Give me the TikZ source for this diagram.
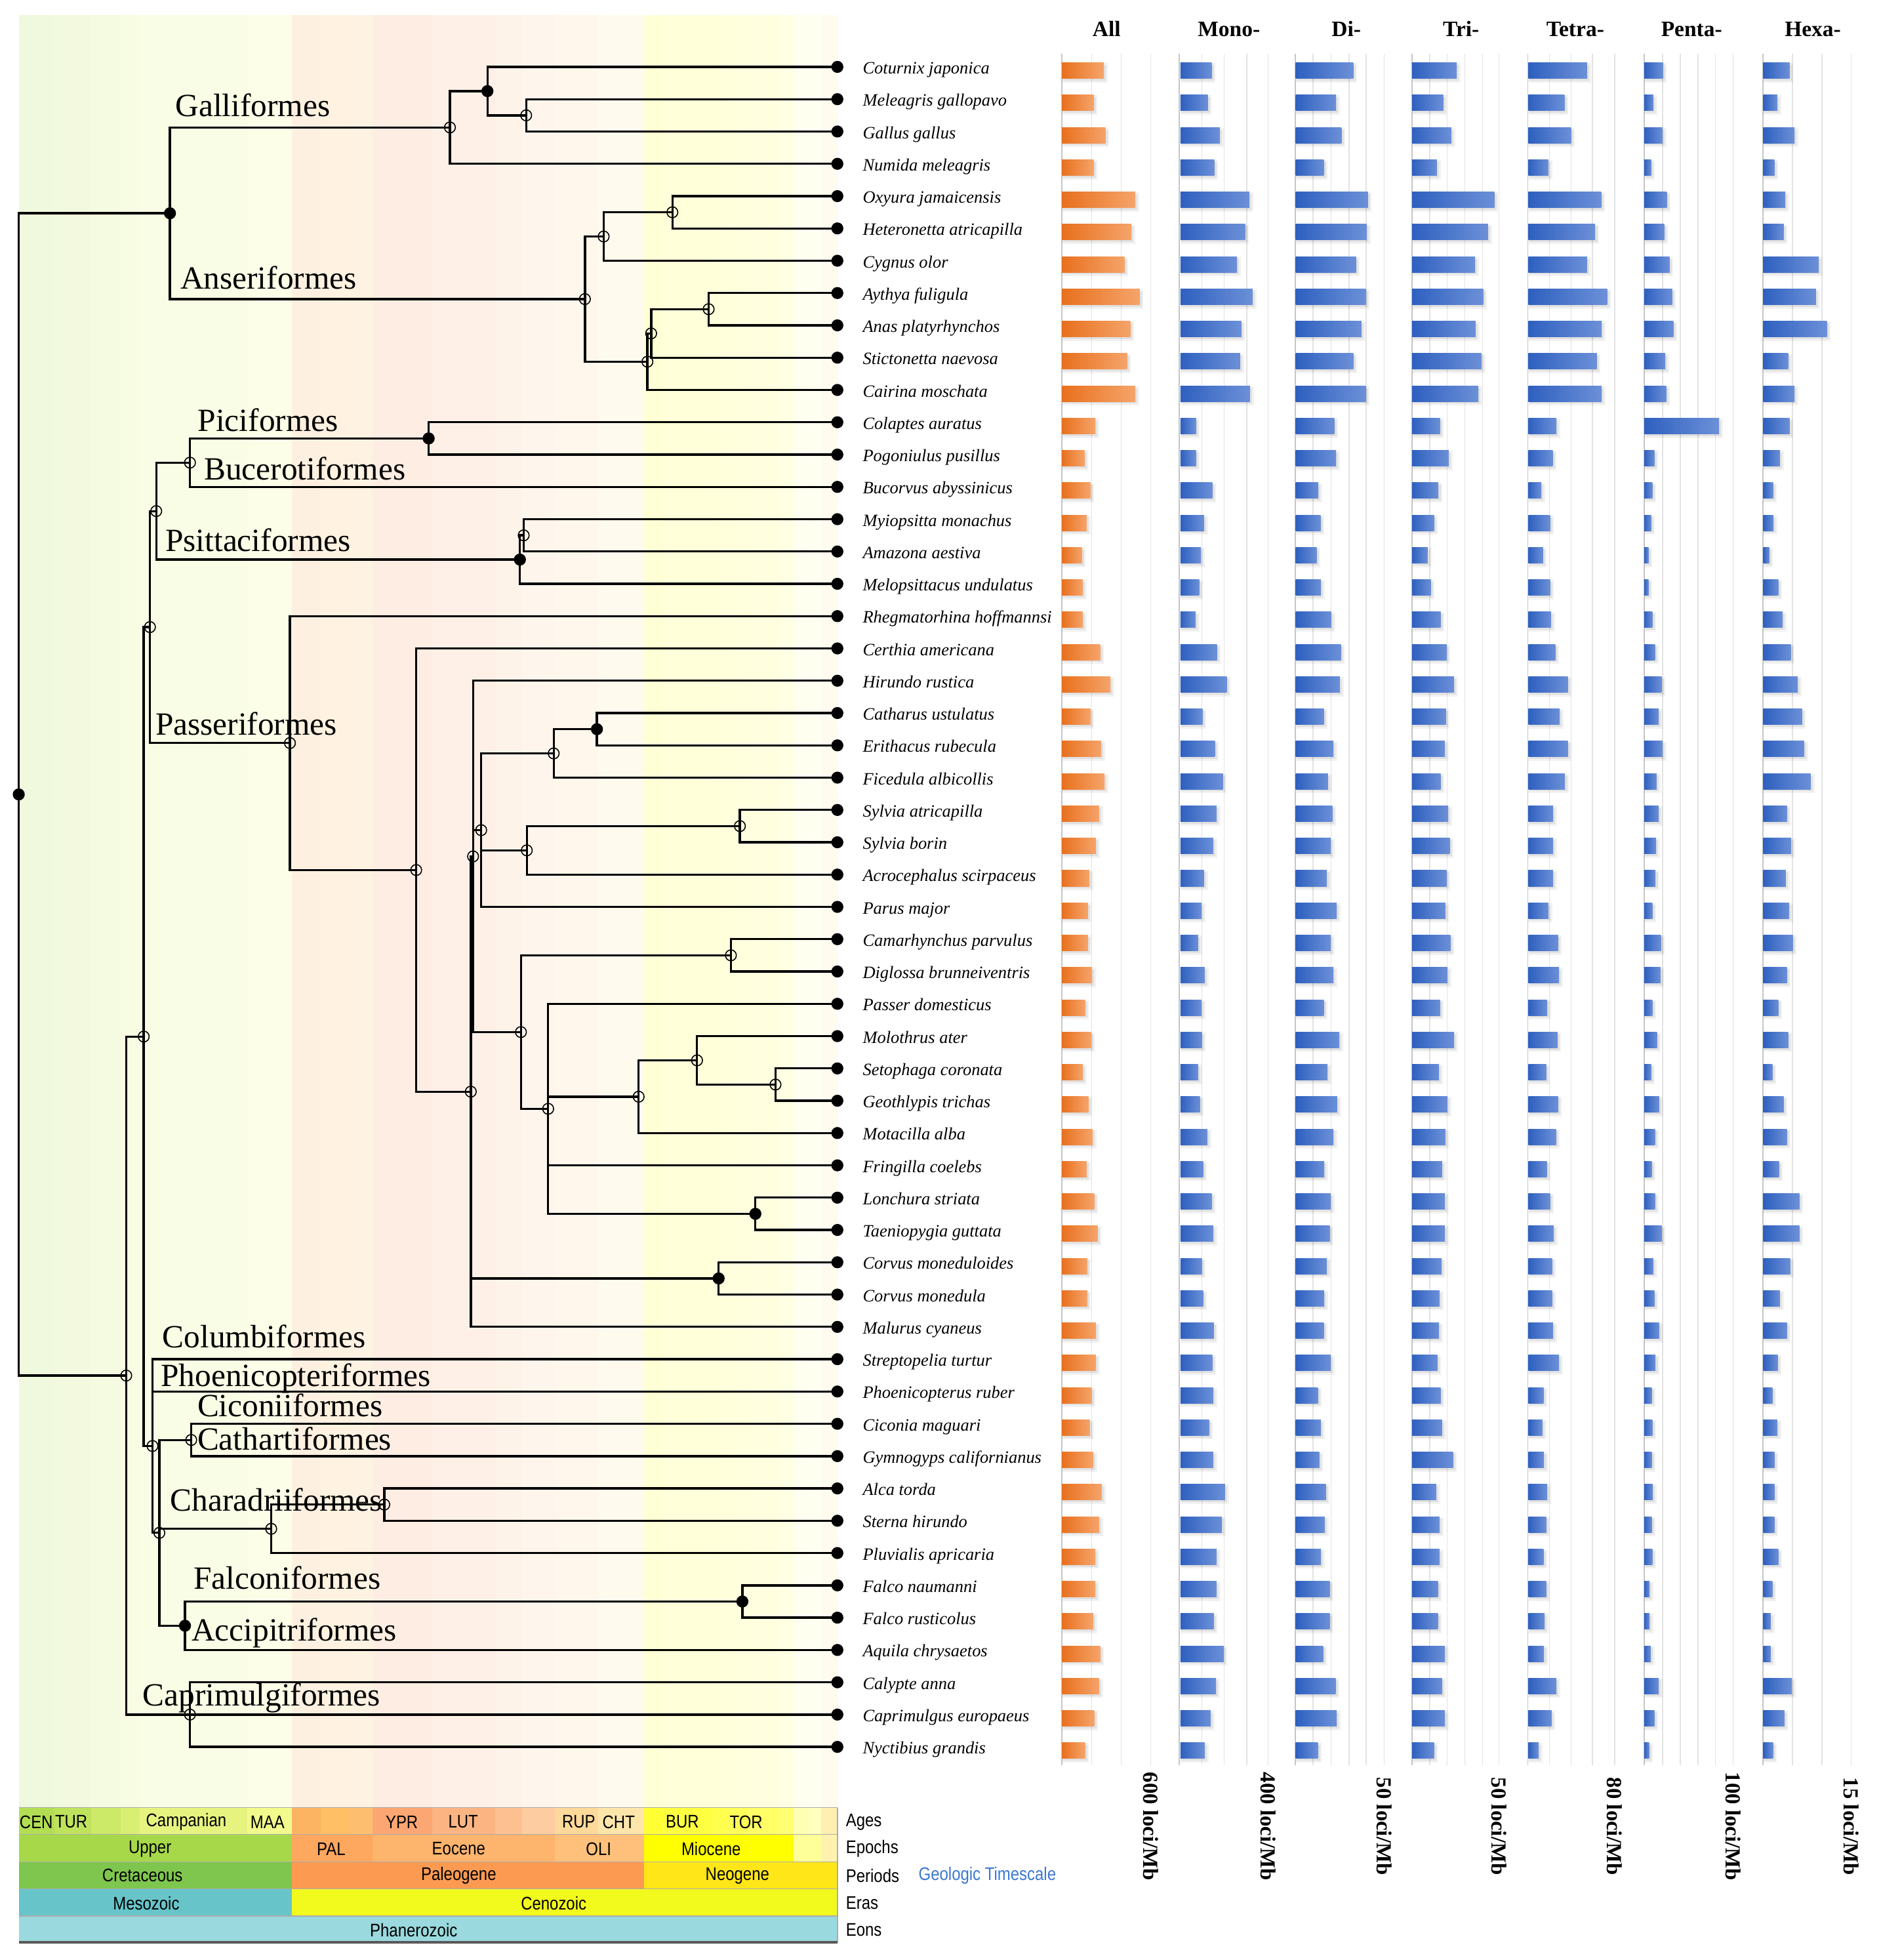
\documentclass[tikz,border=0pt]{standalone}
\usepackage{fontspec}
\setmainfont{Liberation Serif}
\newfontfamily\tsfont[FakeStretch=0.86]{Liberation Sans}
\usetikzlibrary{positioning}

% bar colours
\definecolor{barO1}{HTML}{E8701E}
\definecolor{barO2}{HTML}{F5A46A}
\definecolor{barB1}{HTML}{2E60BF}
\definecolor{barB2}{HTML}{6C90D8}
\definecolor{tsBlue}{HTML}{3A78D0}
% ages
\definecolor{cen}{HTML}{B3DE53}
\definecolor{tur}{HTML}{BFE35D}
\definecolor{con}{HTML}{CCE968}
\definecolor{san}{HTML}{D9EF74}
\definecolor{cam}{HTML}{E6F47F}
\definecolor{maa}{HTML}{F2FA8C}
\definecolor{dan}{HTML}{FDB462}
\definecolor{sel}{HTML}{FEBF65}
\definecolor{tha}{HTML}{FDBF6F}
\definecolor{ypr}{HTML}{FCA773}
\definecolor{lut}{HTML}{FCB482}
\definecolor{bar}{HTML}{FDC091}
\definecolor{pri}{HTML}{FDCDA1}
\definecolor{rup}{HTML}{FED99A}
\definecolor{cht}{HTML}{FEE6AA}
\definecolor{aqu}{HTML}{FFFF33}
\definecolor{bur}{HTML}{FFFF41}
\definecolor{lan}{HTML}{FFFF4D}
\definecolor{ser}{HTML}{FFFF59}
\definecolor{tor}{HTML}{FFFF66}
\definecolor{mes}{HTML}{FFFF73}
\definecolor{zan}{HTML}{FFFFB3}
\definecolor{pia}{HTML}{FFFFBF}
\definecolor{pls}{HTML}{FFEFB0}
% epochs, periods, eras, eons
\definecolor{upper}{HTML}{A6D84A}
\definecolor{pal}{HTML}{FDA75F}
\definecolor{eoc}{HTML}{FDB46C}
\definecolor{oli}{HTML}{FEC07A}
\definecolor{mio}{HTML}{FFFF00}
\definecolor{plio}{HTML}{FFFF99}
\definecolor{pleis}{HTML}{FFF2AE}
\definecolor{cret}{HTML}{7FC64E}
\definecolor{paleo}{HTML}{FD9A52}
\definecolor{neo}{HTML}{FFE619}
\definecolor{meso}{HTML}{67C5CA}
\definecolor{ceno}{HTML}{F2F91D}
\definecolor{phan}{HTML}{9AD9DD}

\tikzset{
    branch/.style={line width=0.95pt},
    fdot/.style={circle, fill=black, inner sep=0pt, minimum size=5.2pt},
    odot/.style={circle, draw=black, line width=0.45pt, inner sep=0pt, minimum size=4.7pt},
    spname/.style={font=\fontsize{7.5}{9}\selectfont\itshape, anchor=base west, inner sep=0pt},
    cladename/.style={font=\fontsize{14}{16}\selectfont, anchor=base west, inner sep=0pt},
    colhead/.style={font=\fontsize{9.5}{11}\selectfont\bfseries, anchor=base, inner sep=0pt},
    scalelbl/.style={font=\fontsize{9.3}{11}\selectfont\bfseries, rotate=-90, inner sep=0pt},
    tslbl/.style={font=\fontsize{7.9}{9}\tsfont, inner sep=0pt},
    gridln/.style={gray!22, line width=0.4pt},
    axisln/.style={gray!45, line width=0.5pt},
    rowln/.style={gray!65, line width=0.5pt}
}

% clade: name, x, top child, bottom child
\newcommand\mkclade[4]{%
    \path (#3) -- (#4) coordinate[midway] (#1m);
    \coordinate (#1) at (#2,0 |- #1m);
    \draw[branch] (#3) -| (#1) |- (#4);
}
% bar: base, end, y, colour prefix (soft shadow, then the bar)
\newcommand\statbar[4]{%
    \fill[black, opacity=0.05] (#1,#3-6) rectangle (#2+7,#3+9.5);
    \fill[black, opacity=0.07] (#1+2,#3-4.5) rectangle (#2+4,#3+8);
    \shade[left color=#41, right color=#42] (#1,#3-6.3) rectangle (#2,#3+6.3);
}

\begin{document}
\begin{tikzpicture}[x=0.019cm, y=-0.019cm, declare function={ry(\r)=53.5+(\r-1)*25.846;}]
\useasboundingbox (0,0) rectangle (1505,1568);

% background bands and ages row
\foreach \xa/\xb/\cc in {15.2/43.5/cen, 43.5/73/tur, 73/96.6/con, 96.6/112/san, 112/198/cam,
    198/233.6/maa, 233.6/256.7/dan, 256.7/278.4/sel, 278.4/298/tha, 298/345.8/ypr,
    345.8/396/lut, 396/417.6/bar, 417.6/443.7/pri, 443.7/478.5/rup, 478.5/515.5/cht,
    515.5/530/aqu, 530/570/bur, 570/582/lan, 582/598/ser, 598/624/tor, 624/635/mes,
    635/647/zan, 647/657/pia, 657/670/pls} {
    \fill[\cc!20] (\xa,12) rectangle (\xb+0.4,1446);
    \fill[\cc] (\xa,1446) rectangle (\xb+0.4,1467.5);
}
\foreach \xa/\xb/\cc in {15.2/233.6/upper, 233.6/298/pal, 298/443.7/eoc, 443.7/515.5/oli,
    515.5/635/mio, 635/657/plio, 657/670/pleis}
    \fill[\cc] (\xa,1467.5) rectangle (\xb+0.4,1489.5);
\foreach \xa/\xb/\cc in {15.2/233.6/cret, 233.6/515.5/paleo, 515.5/670/neo}
    \fill[\cc] (\xa,1489.5) rectangle (\xb+0.4,1511);
\foreach \xa/\xb/\cc in {15.2/233.6/meso, 233.6/670/ceno}
    \fill[\cc] (\xa,1511) rectangle (\xb+0.4,1533);
\fill[phan] (15.2,1533) rectangle (670,1554);
\foreach \yy in {1446,1467.5,1489.5,1511,1533}
    \draw[rowln] (15.2,\yy) -- (670,\yy);
\draw[rowln] (670,1446) -- (670,1554);
\draw[black!65, line width=1.1pt] (15.2,1554) -- (670,1554);

% timescale labels
\foreach \tx/\tname in {29/CEN, 57/TUR, 149/Campanian, 214/MAA, 321.5/YPR, 370.6/LUT,
    463/RUP, 495/CHT, 546/BUR, 597/TOR}
    \node[tslbl] (ta-\tname) at (\tx,1457.5) {\tname};
\foreach \tx/\tname in {120/Upper, 265/PAL, 367/Eocene, 479/OLI, 569/Miocene}
    \node[tslbl] (te-\tname) at (\tx,1479) {\tname};
\foreach \tx/\tname in {114/Cretaceous, 367/Paleogene, 590/Neogene}
    \node[tslbl] (tp-\tname) at (\tx,1500.5) {\tname};
\foreach \tx/\tname in {117/Mesozoic, 443/Cenozoic}
    \node[tslbl] (tr-\tname) at (\tx,1522.5) {\tname};
\node[tslbl] (tn-Phanerozoic) at (331,1544) {Phanerozoic};
\foreach \tname/\ty in {Ages/1457.5, Epochs/1479, Periods/1500.5, Eras/1522.5, Eons/1544}
    \node[tslbl, anchor=west] (ts\tname) at (676.5,\ty) {\tname};
\node[tslbl, anchor=west, text=tsBlue, right=8pt of tsPeriods] (tsLink) {Geologic Timescale};

% microsatellite density bars (x in chart units)
\begin{scope}[shift={(829.4,0)}, xscale=0.431]
    \foreach \gx in {102,157,212, 307,348,390,430, 513,547,580,612,645, 730,762,795,828,858,
        952,992,1032,1073, 1162,1195,1228,1260,1293, 1403,1458,1512}
        \draw[gridln] (\gx,43) -- (\gx,1412);
    \foreach \gx in {47,265,480,697,912,1128,1348}
        \draw[axisln] (\gx,43) -- (\gx,1412);
    \foreach \i/\va/\vb/\vc/\vd/\ve/\vf/\vg in {
        1/125/325/588/780/1022/1163/1398, 2/106/318/556/755/980/1145/1375,
        3/128/340/566/770/992/1162/1407, 4/106/330/533/743/950/1141/1370,
        5/183/395/615/850/1048/1170/1390, 6/176/387/613/838/1037/1165/1387,
        7/163/372/593/814/1022/1175/1452, 8/191/401/611/829/1059/1180/1447,
        9/174/380/603/815/1049/1182/1467, 10/168/378/588/826/1040/1167/1395,
        11/183/396/611/820/1049/1169/1407, 12/109/296/553/749/965/1267/1398,
        13/89/296/556/765/958/1147/1380, 14/100/326/523/746/937/1143/1367,
        15/93/311/527/738/953/1141/1368, 16/84/305/520/726/940/1136/1360,
        17/86/302/528/732/953/1136/1377, 18/86/295/547/750/955/1143/1385,
        19/118/335/565/761/963/1148/1400, 20/137/353/563/775/986/1160/1413,
        21/100/308/533/760/971/1155/1421, 22/120/331/551/758/986/1162/1425,
        23/126/346/541/750/981/1151/1437, 24/116/334/549/764/959/1155/1393,
        25/110/328/546/767/959/1150/1401, 26/98/311/539/761/959/1149/1391,
        27/95/306/557/759/950/1143/1397, 28/95/300/546/768/968/1159/1404,
        29/103/312/551/763/970/1158/1393, 30/90/306/533/749/948/1143/1377,
        31/101/307/562/775/967/1152/1395, 32/86/300/540/747/946/1141/1366,
        33/96/303/558/763/968/1156/1387, 34/104/317/551/759/964/1148/1393,
        35/93/309/534/753/947/1142/1378, 36/107/325/546/758/953/1148/1416,
        37/113/328/544/758/960/1160/1416, 38/94/307/539/752/957/1145/1399,
        39/94/309/534/748/957/1147/1380, 40/110/329/533/747/959/1156/1393,
        41/110/326/546/744/970/1149/1376, 42/102/328/522/750/941/1142/1366,
        43/99/320/528/753/939/1143/1375, 44/105/328/525/773/942/1142/1370,
        45/121/350/537/742/948/1144/1370, 46/116/344/535/748/946/1142/1370,
        47/109/334/528/748/941/1143/1377, 48/109/334/544/745/946/1138/1366,
        49/105/329/544/745/943/1138/1363, 50/118/347/532/758/942/1140/1363,
        51/116/333/555/753/965/1155/1402, 52/107/323/557/758/956/1147/1388,
        53/90/312/522/738/932/1137/1367} {
        \pgfmathsetmacro\yy{ry(\i)+3}
        \statbar{47}{\va}{\yy}{barO}
        \statbar{267}{\vb}{\yy}{barB}
        \statbar{481}{\vc}{\yy}{barB}
        \statbar{697}{\vd}{\yy}{barB}
        \statbar{913}{\ve}{\yy}{barB}
        \statbar{1128}{\vf}{\yy}{barB}
        \statbar{1349}{\vg}{\yy}{barB}
    }
    \foreach \hx/\hname in {130/All, 357/Mono-, 575/Di-, 788/Tri-, 1000/Tetra-, 1216/Penta-, 1441/Hexa-}
        \node[colhead] (h-\hname) at (\hx,29) {\hname};
    \foreach \sx/\sval [count=\k] in {212/600, 430/400, 645/50, 858/50, 1073/80, 1293/100, 1512/15}
        \node[scalelbl] (sc\k) at (\sx,1461) {\sval{} loci/Mb};
\end{scope}

% leaves
\foreach \i in {1,...,53}
    \coordinate (l\i) at (670,{ry(\i)});

% Galloanserae
\mkclade{mg}{421}{l2}{l3}
\mkclade{cmg}{390}{l1}{mg}
\mkclade{galli}{360}{cmg}{l4}
\mkclade{oxhe}{538}{l5}{l6}
\mkclade{oxcy}{483}{oxhe}{l7}
\mkclade{ayan}{567}{l8}{l9}
\mkclade{aast}{521}{ayan}{l10}
\mkclade{duck}{518}{aast}{l11}
\mkclade{anser}{468}{oxcy}{duck}
\mkclade{galloan}{136}{galli}{anser}

% Piciformes, Bucerotiformes, Psittaciformes
\mkclade{pici}{343}{l12}{l13}
\mkclade{picibuc}{152}{pici}{l14}
\mkclade{psittA}{419}{l15}{l16}
\mkclade{psitt}{416}{psittA}{l17}
\mkclade{n125}{125}{picibuc}{psitt}

% Passeriformes
\mkclade{n477}{477.6}{l21}{l22}
\mkclade{n443}{443}{n477}{l23}
\mkclade{sylv}{592}{l24}{l25}
\mkclade{n421}{421.5}{sylv}{l26}
\mkclade{nc}{385}{n443}{l27}
\draw[branch] (nc) |- (n421);
\mkclade{n584}{584.8}{l28}{l29}
\mkclade{n620}{620.5}{l32}{l33}
\mkclade{n557}{557.7}{l31}{n620}
\mkclade{n511}{511}{n557}{l34}
\mkclade{n603}{604.4}{l36}{l37}
\mkclade{n438}{438.6}{l30}{n603}
\draw[branch] (n438) |- (n511);
\draw[branch] (n438) |- (l35);
\mkclade{nd}{416.8}{n584}{n438}
\mkclade{nb}{378.5}{l20}{nd}
\draw[branch] (nb) |- (nc);
\mkclade{corvus}{575}{l38}{l39}
\mkclade{na}{376.7}{nb}{l40}
\draw[branch] (na) |- (corvus);
\mkclade{n333}{333}{l19}{na}
\mkclade{passer}{232}{l18}{n333}
\mkclade{n120}{120}{n125}{passer}

% remaining Neoaves
\mkclade{csc}{153}{l43}{l44}
\mkclade{alst}{307.5}{l45}{l46}
\mkclade{chara}{217}{alst}{l47}
\mkclade{falco}{594}{l48}{l49}
\mkclade{accip}{148}{falco}{l50}
\mkclade{nq}{127.5}{csc}{accip}
\draw[branch] (nq) |- (chara);
\mkclade{np}{122}{l41}{nq}
\draw[branch] (np) |- (l42);
\mkclade{n115}{115}{n120}{np}
\mkclade{caprim}{152}{l51}{l53}
\draw[branch] (caprim) |- (l52);
\mkclade{neoaves}{101}{n115}{caprim}
\mkclade{root}{15}{galloan}{neoaves}

% node marks
\foreach \n in {root,galloan,cmg,pici,psitt,n477,n603,corvus,falco,accip}
    \node[fdot] (\n-d) at (\n) {};
\foreach \n in {mg,galli,oxhe,oxcy,ayan,aast,duck,anser,picibuc,psittA,n125,n443,sylv,n421,
    nc,n584,n620,n557,n511,n438,nd,nb,na,n333,passer,n120,csc,alst,chara,nq,np,n115,caprim,neoaves}
    \node[odot] (\n-d) at (\n) {};
\foreach \i in {1,...,53}
    \node[fdot] (l\i-d) at (l\i) {};

% species
\foreach \spn [count=\i] in {Coturnix japonica, Meleagris gallopavo, Gallus gallus, Numida meleagris,
    Oxyura jamaicensis, Heteronetta atricapilla, Cygnus olor, Aythya fuligula, Anas platyrhynchos,
    Stictonetta naevosa, Cairina moschata, Colaptes auratus, Pogoniulus pusillus, Bucorvus abyssinicus,
    Myiopsitta monachus, Amazona aestiva, Melopsittacus undulatus, Rhegmatorhina hoffmannsi,
    Certhia americana, Hirundo rustica, Catharus ustulatus, Erithacus rubecula, Ficedula albicollis,
    Sylvia atricapilla, Sylvia borin, Acrocephalus scirpaceus, Parus major, Camarhynchus parvulus,
    Diglossa brunneiventris, Passer domesticus, Molothrus ater, Setophaga coronata, Geothlypis trichas,
    Motacilla alba, Fringilla coelebs, Lonchura striata, Taeniopygia guttata, Corvus moneduloides,
    Corvus monedula, Malurus cyaneus, Streptopelia turtur, Phoenicopterus ruber, Ciconia maguari,
    Gymnogyps californianus, Alca torda, Sterna hirundo, Pluvialis apricaria, Falco naumanni,
    Falco rusticolus, Aquila chrysaetos, Calypte anna, Caprimulgus europaeus, Nyctibius grandis}
    \node[spname] (sp\i) at ([xshift=10.8pt, yshift=-3pt] l\i) {\spn};

% orders
\node[cladename] (oGalli) at (140,93) {Galliformes};
\node[cladename] (oAnser) at (144,231) {Anseriformes};
\node[cladename] (oPici) at (158,345) {Piciformes};
\node[cladename] (oBucer) at (163,384) {Bucerotiformes};
\node[cladename] (oPsitt) at (132,441) {Psittaciformes};
\node[cladename] (oPasser) at (124,588) {Passeriformes};
\node[cladename] (oColumb) at (129.7,1078) {Columbiformes};
\node[cladename] (oPhoen) at (128.4,1109) {Phoenicopteriformes};
\node[cladename] (oCicon) at (157.6,1133) {Ciconiiformes};
\node[cladename] (oCathar) at (157.6,1160) {Cathartiformes};
\node[cladename] (oCharad) at (135.8,1208.7) {Charadriiformes};
\node[cladename] (oFalco) at (154.5,1271.4) {Falconiformes};
\node[cladename] (oAccip) at (153,1312.5) {Accipitriformes};
\node[cladename] (oCaprim) at (114,1364.4) {Caprimulgiformes};
\end{tikzpicture}
\end{document}
